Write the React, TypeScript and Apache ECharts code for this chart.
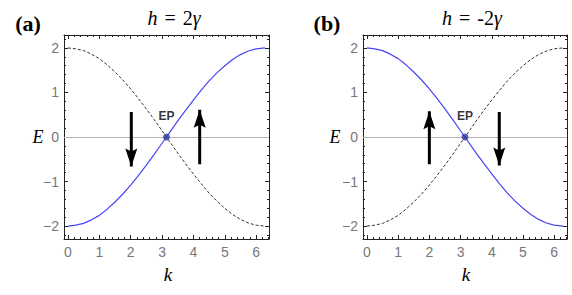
import React, { useEffect, useRef } from "react";
import * as echarts from "echarts";

const kValues = [0, 0.25, 0.5, 0.75, 1.0, 1.25, 1.5, 1.75, 2.0, 2.25, 2.5, 2.75, 3.0, 3.1416, 3.25, 3.5, 3.75, 4.0, 4.25, 4.5, 4.75, 5.0, 5.25, 5.5, 5.75, 6.0, 6.2832];
const upperBand = [2.0, 1.98, 1.94, 1.86, 1.76, 1.62, 1.46, 1.28, 1.08, 0.86, 0.63, 0.39, 0.14, 0.0, -0.11, -0.36, -0.6, -0.83, -1.05, -1.26, -1.44, -1.6, -1.74, -1.85, -1.93, -1.98, -2.0];
const lowerBand = [-2.0, -1.98, -1.94, -1.86, -1.76, -1.62, -1.46, -1.28, -1.08, -0.86, -0.63, -0.39, -0.14, 0.0, 0.11, 0.36, 0.6, 0.83, 1.05, 1.26, 1.44, 1.6, 1.74, 1.85, 1.93, 1.98, 2.0];

const epPoint = [3.1416, 0];

// Arrows: [k, E start, E tip]
const arrowsA = [
  [2.02, 0.56, -0.66],
  [4.2, -0.61, 0.61],
];
const arrowsB = [
  [2.0, -0.61, 0.58],
  [4.24, 0.56, -0.64],
];

// Tick values
const xMajorTicks = [0, 1, 2, 3, 4, 5, 6];
const xMinorTicks = [0.2, 0.4, 0.6, 0.8, 1.2, 1.4, 1.6, 1.8, 2.2, 2.4, 2.6, 2.8, 3.2, 3.4, 3.6, 3.8, 4.2, 4.4, 4.6, 4.8, 5.2, 5.4, 5.6, 5.8, 6.2, 6.4];
const yMajorTicks = [-2, -1, 0, 1, 2];
const yMinorTicks = [-2.2, -1.8, -1.6, -1.4, -1.2, -0.8, -0.6, -0.4, -0.2, 0.2, 0.4, 0.6, 0.8, 1.2, 1.4, 1.6, 1.8, 2.2];

const panelTitleNums = ["2", "-2"];
const panelTags = ["(a)", "(b)"];

const xMin = -0.126;
const xMax = 6.41;
const yMin = -2.29;
const yMax = 2.29;

const BLUE = "#4646f5";
const FRAME = "#222";
const LABEL_GRAY = "#777";
const SANS = "Liberation Sans";
const SERIF = "Liberation Serif";

const DOWN_HEAD = "path://M0,0 L6,3 L12,0 L6,18 Z";
const UP_HEAD = "path://M6,0 L12,18 L6,15 L0,18 Z";

export default function App() {
  const ref = useRef<HTMLDivElement>(null);

  useEffect(() => {
    if (!ref.current) return;
    const chart = echarts.init(ref.current, null, { renderer: "svg" });

    const grids = [
      { left: 64, top: 35, width: 205, height: 204 },
      { left: 363, top: 35, width: 204, height: 204 },
    ];

    const xAxes: any[] = [];
    const yAxes: any[] = [];
    grids.forEach((_, gi) => {
      ["bottom", "top"].forEach((pos) => {
        xAxes.push({
          type: "value",
          gridIndex: gi,
          position: pos,
          min: xMin,
          max: xMax,
          splitLine: { show: false },
          axisLine: { show: true, onZero: false, lineStyle: { color: FRAME, width: 1 } },
          axisTick: { show: true, inside: true, length: 4, customValues: xMajorTicks, lineStyle: { color: FRAME } },
          axisLabel: {
            show: pos === "bottom",
            customValues: xMajorTicks,
            margin: 6,
            color: LABEL_GRAY,
            fontSize: 14,
            fontFamily: SANS,
            formatter: (v: number) => String(Math.round(v)),
          },
        });
        xAxes.push({
          type: "value",
          gridIndex: gi,
          position: pos,
          min: xMin,
          max: xMax,
          splitLine: { show: false },
          axisLine: { show: false, onZero: false },
          axisTick: { show: true, inside: true, length: 2, customValues: xMinorTicks, lineStyle: { color: FRAME } },
          axisLabel: { show: false },
        });
      });
      ["left", "right"].forEach((pos) => {
        yAxes.push({
          type: "value",
          gridIndex: gi,
          position: pos,
          min: yMin,
          max: yMax,
          splitLine: { show: false },
          axisLine: { show: true, onZero: false, lineStyle: { color: FRAME, width: 1 } },
          axisTick: { show: true, inside: true, length: 4, customValues: yMajorTicks, lineStyle: { color: FRAME } },
          axisLabel: {
            show: pos === "left",
            customValues: yMajorTicks,
            margin: 5,
            color: LABEL_GRAY,
            fontSize: 14,
            fontFamily: SANS,
            formatter: (v: number) => {
              const r = Math.round(v);
              return r < 0 ? "\u2212" + Math.abs(r) : String(r);
            },
          },
        });
        yAxes.push({
          type: "value",
          gridIndex: gi,
          position: pos,
          min: yMin,
          max: yMax,
          splitLine: { show: false },
          axisLine: { show: false, onZero: false },
          axisTick: { show: true, inside: true, length: 2, customValues: yMinorTicks, lineStyle: { color: FRAME } },
          axisLabel: { show: false },
        });
      });
    });

    const series: any[] = [];
    const panels = [
      { blue: lowerBand, dashed: upperBand, arrows: arrowsA },
      { blue: upperBand, dashed: lowerBand, arrows: arrowsB },
    ];
    panels.forEach((p, gi) => {
      const xi = gi * 4;
      const yi = gi * 4;
      series.push({
        type: "line",
        xAxisIndex: xi,
        yAxisIndex: yi,
        data: kValues.map((k, i) => [k, p.dashed[i]]),
        symbol: "none",
        smooth: false,
        lineStyle: { color: "#333", width: 1, type: [3, 2] },
        z: 3,
        markLine: {
          silent: true,
          symbol: "none",
          label: { show: false },
          lineStyle: { color: "#b4b4b4", type: "solid", width: 1 },
          data: [{ yAxis: 0 }],
          z: 1,
        },
      });
      series.push({
        type: "line",
        xAxisIndex: xi,
        yAxisIndex: yi,
        data: kValues.map((k, i) => [k, p.blue[i]]),
        symbol: "none",
        smooth: false,
        lineStyle: { color: BLUE, width: 1.2 },
        z: 4,
      });
      p.arrows.forEach((a) => {
        const up = a[2] > a[1];
        series.push({
          type: "line",
          xAxisIndex: xi,
          yAxisIndex: yi,
          symbol: "none",
          lineStyle: { color: "#000", width: 3, cap: "butt" },
          itemStyle: { color: "#000" },
          z: 5,
          data: [
            { value: [a[0], a[1]], symbol: "none" },
            {
              value: [a[0], a[2]],
              symbol: up ? UP_HEAD : DOWN_HEAD,
              symbolSize: [12, 18],
              symbolOffset: [0, up ? 9 : -9],
            },
          ],
        });
      });
      series.push({
        type: "scatter",
        xAxisIndex: xi,
        yAxisIndex: yi,
        data: [epPoint],
        symbolSize: 7,
        itemStyle: { color: "#2c3b9c" },
        z: 6,
        label: {
          show: true,
          position: "top",
          distance: 12,
          formatter: "EP",
          fontFamily: SANS,
          fontWeight: "bold",
          fontSize: 12,
          color: "#000",
        },
      });
    });

    const titleX = [174, 472];
    const titles = [0, 1].map((gi) => ({
      text: "{i|h}{s|=}{n|" + panelTitleNums[gi] + "}{i|γ}",
      left: titleX[gi],
      top: 8,
      textAlign: "center",
      padding: 0,
      textStyle: {
        fontFamily: SERIF,
        fontSize: 20,
        fontWeight: "normal",
        color: "#000",
        rich: {
          i: { fontFamily: SERIF, fontStyle: "italic", fontSize: 20, color: "#000" },
          s: { fontFamily: SERIF, fontStyle: "normal", fontSize: 20, color: "#000", padding: [0, 7, 0, 7] },
          n: { fontFamily: SERIF, fontStyle: "normal", fontSize: 20, color: "#000" },
        },
      },
    }));

    const graphics: any[] = [];
    const tagX = [28, 327];
    const eX = [38, 335];
    const kX = [168, 466];
    [0, 1].forEach((gi) => {
      graphics.push({
        type: "text",
        x: tagX[gi],
        y: 23,
        style: {
          text: panelTags[gi],
          fontFamily: SERIF,
          fontWeight: "bold",
          fontSize: 22,
          fill: "#000",
          textAlign: "center",
          textVerticalAlign: "middle",
        },
      });
      graphics.push({
        type: "text",
        x: eX[gi],
        y: 137,
        style: {
          text: "E",
          fontFamily: SERIF,
          fontStyle: "italic",
          fontSize: 18,
          fill: "#000",
          textAlign: "center",
          textVerticalAlign: "middle",
        },
      });
      graphics.push({
        type: "text",
        x: kX[gi],
        y: 274,
        style: {
          text: "k",
          fontFamily: SERIF,
          fontStyle: "italic",
          fontSize: 19,
          fill: "#000",
          textAlign: "center",
          textVerticalAlign: "middle",
        },
      });
    });

    chart.setOption({
      animation: false,
      backgroundColor: "#fff",
      title: titles,
      grid: grids,
      xAxis: xAxes,
      yAxis: yAxes,
      series,
      graphic: graphics,
    });

    return () => chart.dispose();
  }, []);

  return <div ref={ref} style={{ width: 572, height: 295, position: "absolute", left: 0, top: 0 }} />;
}
